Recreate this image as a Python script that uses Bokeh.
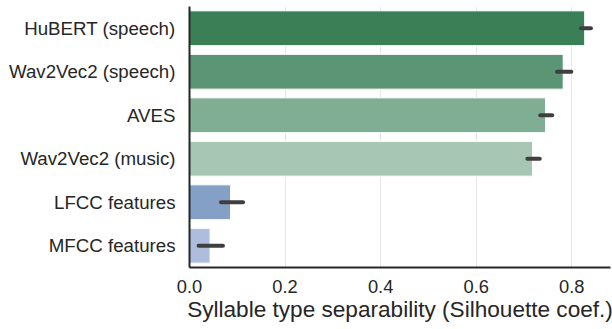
from bokeh.plotting import figure
from bokeh.models import ColumnDataSource, Range1d, FactorRange, FixedTicker
from bokeh.embed import file_html
from bokeh.resources import INLINE

models = ["HuBERT (speech)", "Wav2Vec2 (speech)", "AVES", "Wav2Vec2 (music)", "LFCC features", "MFCC features"]
scores = [0.827, 0.782, 0.745, 0.718, 0.086, 0.043]
ci_low = [0.819, 0.769, 0.734, 0.707, 0.066, 0.019]
ci_high = [0.840, 0.799, 0.759, 0.733, 0.112, 0.070]
colors = ["#3b7f57", "#5c9575", "#80ae95", "#a8c6b4", "#84a0c6", "#aebddd"]
xticks = [0.0, 0.2, 0.4, 0.6, 0.8]
xlabel = "Syllable type separability (Silhouette coef.)"

src = ColumnDataSource(dict(model=models, score=scores, lo=ci_low, hi=ci_high, color=colors))

p = figure(width=612, height=329, output_backend="svg", toolbar_location=None,
           y_range=FactorRange(*list(reversed(models)), range_padding=0),
           x_range=Range1d(0, 0.881),
           min_border_left=189, min_border_right=2, min_border_top=6, min_border_bottom=62)
p.outline_line_color = None
p.background_fill_color = "white"

p.hbar(y="model", right="score", left=0, height=0.8, fill_color="color",
       line_color="white", line_width=1, source=src)
p.segment(x0="lo", x1="hi", y0="model", y1="model", line_color="#3f3f3f",
          line_width=4, line_cap="round", source=src)

p.xgrid.grid_line_color = "#e6e6e6"
p.xgrid.grid_line_width = 1
p.ygrid.grid_line_color = None
p.xaxis.ticker = FixedTicker(ticks=xticks)
p.xaxis.major_label_overrides = {t: f"{t:.1f}" for t in xticks}

for ax in (p.xaxis, p.yaxis):
    ax.axis_line_color = "#262626"
    ax.axis_line_width = 2
    ax.major_tick_line_color = None
    ax.minor_tick_line_color = None
    ax.major_tick_out = 0
    ax.major_tick_in = 0
    ax.minor_tick_out = 0
    ax.major_label_text_font = "Liberation Sans"
    ax.major_label_text_color = "#262626"

p.yaxis.major_label_text_font_size = "18.7px"
p.xaxis.major_label_text_font_size = "18.3px"
p.xaxis.major_label_standoff = 12
p.yaxis.major_label_standoff = 14
p.xaxis.axis_label = xlabel
p.xaxis.axis_label_text_font = "Liberation Sans"
p.xaxis.axis_label_text_font_size = "22.6px"
p.xaxis.axis_label_text_font_style = "normal"
p.xaxis.axis_label_text_color = "#262626"
p.xaxis.axis_label_standoff = 1

html = file_html(p, INLINE)
html = html.replace("<head>", "<head><style>html,body{margin:0 !important;padding:0;overflow:hidden;}</style>", 1)
open("out.html", "w").write(html)
